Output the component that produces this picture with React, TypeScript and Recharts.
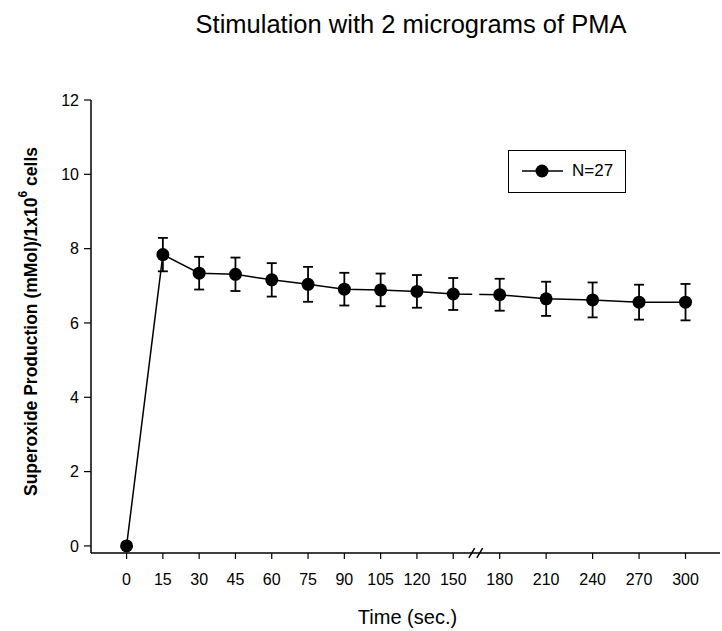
import React from 'react';
import { LineChart, Line, XAxis, YAxis, ErrorBar, ReferenceLine, Label } from 'recharts';

const FONT = '"Liberation Sans", Arial, sans-serif';

// sampling times (sec.) — axis is broken between 150 and 180
const times = [0, 15, 30, 45, 60, 75, 90, 105, 120, 150, 180, 210, 240, 270, 300];
// mean superoxide production (mMol / 1x10^6 cells), N=27
const superoxide = [0, 7.84, 7.34, 7.31, 7.16, 7.04, 6.91, 6.89, 6.85, 6.78, 6.76, 6.65, 6.62, 6.56, 6.56];
// standard error of the mean
const sem = [0, 0.45, 0.44, 0.45, 0.45, 0.47, 0.44, 0.44, 0.44, 0.43, 0.43, 0.46, 0.47, 0.47, 0.49];
const yTicks = [0, 2, 4, 6, 8, 10, 12];

// broken x scale: first 10 times sit one unit apart, the ones after the break are spread wider
const BEFORE_BREAK = 10;
const AFTER_STEP = 1.28;
const BREAK_POS = 9.62;
const axisPos = (i: number) => (i < BEFORE_BREAK ? i : BEFORE_BREAK - 1 + (i - BEFORE_BREAK + 1) * AFTER_STEP);

const data = times.map((t, i) => ({ time: t, pos: axisPos(i), value: superoxide[i], err: sem[i] }));

const timeLabel = (v: number) => {
  const d = data.find(p => Math.abs(p.pos - v) < 1e-6);
  return d ? String(d.time) : '';
};

const YTitle = (props: any) => {
  const vb = props.viewBox || { x: 0, y: 0, width: 0, height: 0 };
  const cx = vb.x + 31;
  const cy = vb.y + vb.height / 2 - 5;
  return (
    <text
      x={cx}
      y={cy}
      transform={`rotate(-90, ${cx}, ${cy})`}
      textAnchor="middle"
      dominantBaseline="central"
      fontFamily={FONT}
      fontWeight="bold"
      fontSize={17.5}
      fill="#000"
    >
      Superoxide Production (mMol)/1x10
      <tspan dy={-8} fontSize={12}>6</tspan>
      <tspan dy={8}> cells</tspan>
    </text>
  );
};

const XTitle = (props: any) => {
  const vb = props.viewBox || { x: 0, y: 0, width: 0, height: 0 };
  return (
    <text
      x={vb.x + vb.width / 2 + 2}
      y={vb.y + 64}
      textAnchor="middle"
      dominantBaseline="central"
      fontFamily={FONT}
      fontSize={20}
      fill="#000"
    >
      Time (sec.)
    </text>
  );
};

const LegendBox = () => (
  <div
    style={{
      position: 'absolute',
      left: 508,
      top: 150,
      width: 118,
      height: 43,
      boxSizing: 'border-box',
      border: '1.5px solid #000',
      background: '#fff',
    }}
  >
    <svg width={60} height={40} style={{ position: 'absolute', left: 0, top: 0 }}>
      <line x1={13} y1={20} x2={54} y2={20} stroke="#000" strokeWidth={1.5} />
      <circle cx={33} cy={20} r={6.5} fill="#000" />
    </svg>
    <span
      style={{
        position: 'absolute',
        left: 63,
        top: 10,
        fontFamily: FONT,
        fontSize: 17,
        lineHeight: '20px',
        color: '#000',
      }}
    >
      N=27
    </span>
  </div>
);

export default function App() {
  return (
    <div style={{ position: 'absolute', left: 0, top: 0, width: 722, height: 631, background: '#fff' }}>
      <div
        style={{
          position: 'absolute',
          left: 411,
          top: 10,
          transform: 'translateX(-50%)',
          whiteSpace: 'nowrap',
          fontFamily: FONT,
          fontSize: 25.5,
          color: '#000',
        }}
      >
        Stimulation with 2 micrograms of PMA
      </div>
      <LineChart width={722} height={631} data={data} margin={{ top: 100, right: 2, bottom: 0, left: 0 }}>
        <XAxis
          type="number"
          dataKey="pos"
          domain={[-0.98, 16.35]}
          ticks={data.map(d => d.pos)}
          tickFormatter={timeLabel}
          interval={0}
          height={78}
          tickSize={6}
          tickMargin={15}
          axisLine={{ stroke: '#000', strokeWidth: 1.5 }}
          tickLine={{ stroke: '#000', strokeWidth: 1.2 }}
          tick={{ fill: '#000', fontSize: 16, fontFamily: FONT }}
        >
          <Label content={<XTitle />} />
        </XAxis>
        <YAxis
          type="number"
          domain={[-0.19, 12]}
          ticks={yTicks}
          interval={0}
          width={91}
          tickSize={7}
          tickMargin={5}
          axisLine={{ stroke: '#000', strokeWidth: 1.5 }}
          tickLine={{ stroke: '#000', strokeWidth: 1.2 }}
          tick={{ fill: '#000', fontSize: 16, fontFamily: FONT }}
        >
          <Label content={<YTitle />} />
        </YAxis>
        <Line
          type="linear"
          dataKey="value"
          stroke="#000"
          strokeWidth={1.5}
          dot={{ r: 6.5, fill: '#000', stroke: '#000', strokeWidth: 0 }}
          activeDot={false}
          isAnimationActive={false}
        >
          <ErrorBar dataKey="err" direction="y" width={5} stroke="#000" strokeWidth={1.8} />
        </Line>
        {/* axis break: gap through the series line and the x axis, with two slashes */}
        <ReferenceLine
          segment={[{ x: BREAK_POS, y: 5.6 }, { x: BREAK_POS, y: 7.8 }]}
          stroke="#fff"
          strokeWidth={7}
          ifOverflow="visible"
        />
        <ReferenceLine
          segment={[{ x: BREAK_POS, y: -0.45 }, { x: BREAK_POS, y: 0.05 }]}
          stroke="#fff"
          strokeWidth={7}
          ifOverflow="visible"
        />
        <ReferenceLine
          segment={[{ x: 9.43, y: -0.32 }, { x: 9.59, y: -0.06 }]}
          stroke="#000"
          strokeWidth={1.5}
          ifOverflow="visible"
        />
        <ReferenceLine
          segment={[{ x: 9.65, y: -0.32 }, { x: 9.81, y: -0.06 }]}
          stroke="#000"
          strokeWidth={1.5}
          ifOverflow="visible"
        />
      </LineChart>
      <LegendBox />
    </div>
  );
}
